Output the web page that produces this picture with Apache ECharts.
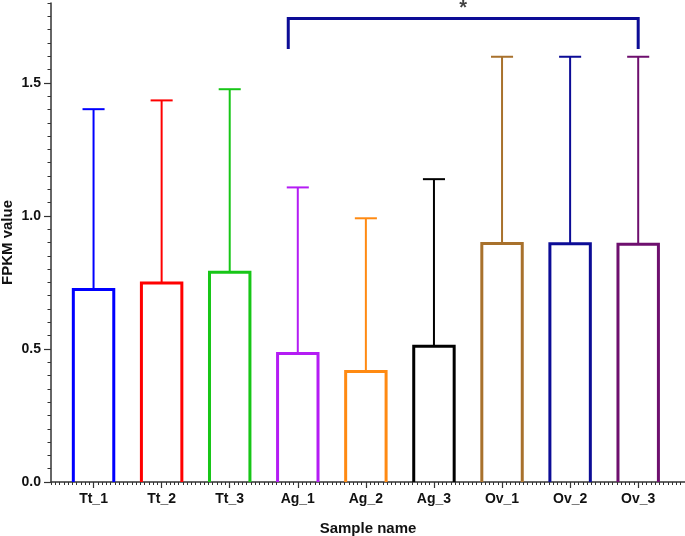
<!DOCTYPE html>
<html>
<head>
<meta charset="utf-8">
<script src="https://cdn.jsdelivr.net/npm/echarts@6/dist/echarts.min.js"></script>
<style>html,body{margin:0;padding:0;background:#fff;}#c{width:685px;height:536px;}</style>
</head>
<body>
<div id="c"></div>
<script>
// ---- data ----
var categories = ['Tt_1','Tt_2','Tt_3','Ag_1','Ag_2','Ag_3','Ov_1','Ov_2','Ov_3'];
var means      = [0.723, 0.748, 0.788, 0.483, 0.415, 0.510, 0.896, 0.895, 0.893];
var errorTops  = [1.401, 1.434, 1.476, 1.107, 0.991, 1.138, 1.598, 1.598, 1.598];
var barColors  = ['#0000ff','#ff0000','#17c617','#b41cf4','#ff8a12','#000000','#a8712c','#0c0c96','#6e0f6e'];
var yTicks     = [0, 0.5, 1.0, 1.5];
var bracketX   = [2.86, 2.86, 8, 8];
var bracketY   = [1.627, 1.742, 1.742, 1.627];
var sigLabel   = '*';

var font = '"Liberation Sans", Arial, sans-serif';
var chart = echarts.init(document.getElementById('c'), null, {renderer:'canvas'});

var barData = categories.map(function(c, i){ return [i, means[i], errorTops[i]]; });
var HALF = 0.297, CAP = 0.162;

var option = {
  animation: false,
  grid: {left: 51, right: 0, top: 3, bottom: 54, containLabel: false, outerBoundsMode: 'none'},
  xAxis: [
    { type:'value', min:-0.625, max:8.6875, interval:0.0625,
      axisLine:{show:true, onZero:false, lineStyle:{color:'#333', width:1.5}},
      axisTick:{show:true, length:3, lineStyle:{color:'#333', width:1}},
      axisLabel:{show:false}, splitLine:{show:false},
      name:'Sample name', nameLocation:'middle', nameGap:39, nameMoveOverlap:false,
      nameTextStyle:{fontFamily:font, fontWeight:'bold', fontSize:15, color:'#111'} },
    { type:'value', min:-0.625, max:8.6875, splitNumber:9, minInterval:1, maxInterval:1,
      position:'bottom',
      axisLine:{show:false, onZero:false},
      axisTick:{show:true, length:6, lineStyle:{color:'#333', width:1.2}},
      splitLine:{show:false},
      axisLabel:{show:true, margin:10, fontFamily:font, fontWeight:'bold', fontSize:14, color:'#111',
        showMinLabel:false, showMaxLabel:false,
        formatter:function(v){ var k=Math.round(v); return (Math.abs(v-k)<1e-6 && k>=0 && k<categories.length)? categories[k] : ''; } } }
  ],
  yAxis: [
    { type:'value', min:0, max:1.8, interval:0.5, position:'left',
      axisLine:{show:true, onZero:false, lineStyle:{color:'#333', width:1.5}},
      axisTick:{show:true, length:7, lineStyle:{color:'#333', width:1.2}},
      splitLine:{show:false},
      axisLabel:{margin:10, fontFamily:font, fontWeight:'bold', fontSize:14, color:'#111', showMaxLabel:false,
        formatter:function(v){ for (var j=0;j<yTicks.length;j++){ if (Math.abs(v-yTicks[j])<1e-6) return yTicks[j].toFixed(1);} return ''; } },
      name:'FPKM value', nameLocation:'middle', nameGap:36, nameRotate:90, nameMoveOverlap:false,
      nameTextStyle:{fontFamily:font, fontWeight:'bold', fontSize:15, color:'#111'} },
    { type:'value', min:0, max:1.8, interval:0.05, position:'left',
      axisLine:{show:false, onZero:false},
      axisTick:{show:true, length:3.5, lineStyle:{color:'#333', width:1}},
      axisLabel:{show:false}, splitLine:{show:false} }
  ],
  series: [
    { type:'custom', xAxisIndex:0, yAxisIndex:0, data: barData, clip:false,
      renderItem: function(params, api){
        var i = api.value(0), m = api.value(1), t = api.value(2);
        var col = barColors[params.dataIndex];
        var bl = api.coord([i-HALF, 0]), tl = api.coord([i-HALF, m]);
        var tr = api.coord([i+HALF, m]), br = api.coord([i+HALF, 0]);
        var mTop = api.coord([i, m]), eTop = api.coord([i, t]);
        var cL = api.coord([i-CAP, t]), cR = api.coord([i+CAP, t]);
        return { type:'group', children:[
          { type:'polyline', shape:{points:[bl, tl, tr, br]}, style:{stroke:col, lineWidth:3, fill:null, lineJoin:'miter'} },
          { type:'line', shape:{x1:mTop[0], y1:mTop[1], x2:eTop[0], y2:eTop[1]}, style:{stroke:col, lineWidth:2} },
          { type:'line', shape:{x1:cL[0], y1:cL[1], x2:cR[0], y2:cR[1]}, style:{stroke:col, lineWidth:2} }
        ]};
      } },
    { type:'line', xAxisIndex:0, yAxisIndex:0, symbol:'none', clip:false,
      data: bracketX.map(function(x, k){ return [x, bracketY[k]]; }),
      lineStyle:{color:'#0c0c96', width:3, join:'miter'} },
    { type:'scatter', xAxisIndex:0, yAxisIndex:0, symbolSize:0, clip:false,
      data: [[(bracketX[0]+bracketX[3])/2, bracketY[1]]],
      label:{show:true, position:'top', distance:0, formatter:sigLabel, fontFamily:font, fontWeight:'bold', fontSize:20, color:'#111'} }
  ]
};
chart.setOption(option);
</script>
</body>
</html>
